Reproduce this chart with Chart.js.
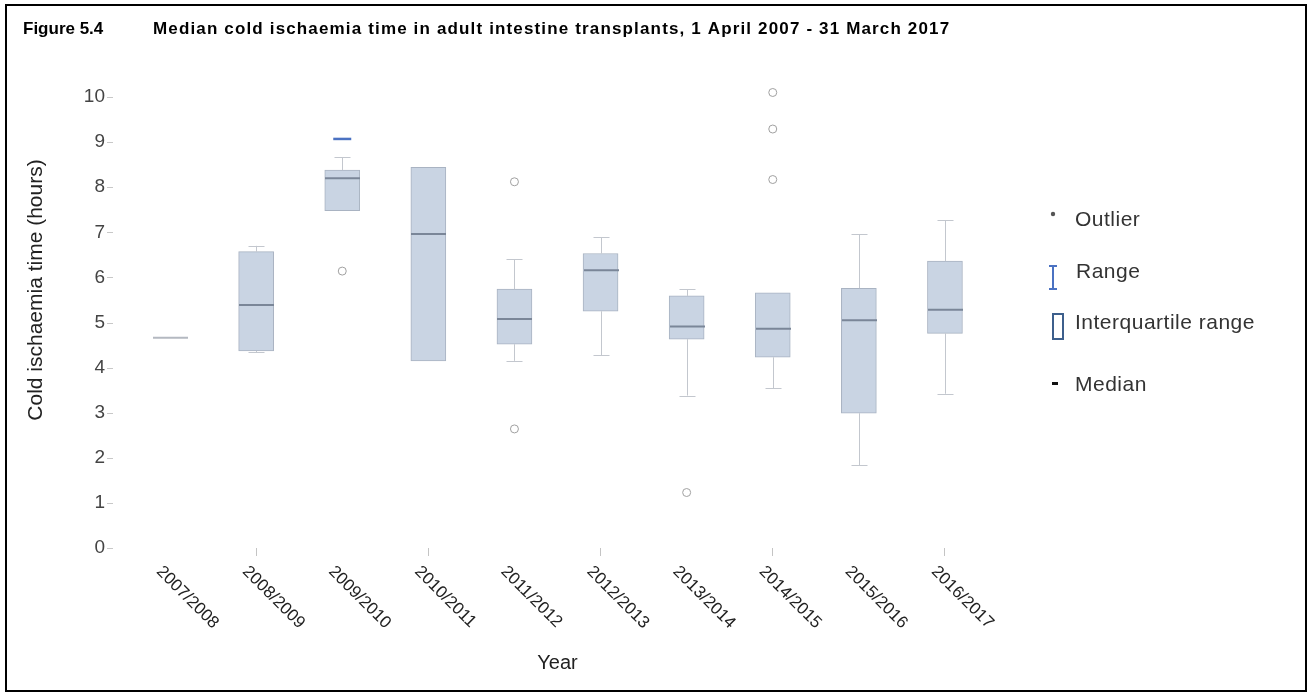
<!DOCTYPE html>
<html>
<head>
<meta charset="utf-8">
<title>Median cold ischaemia time in adult intestine transplants</title>
<script src="https://cdn.jsdelivr.net/npm/chart.js@4.4.1/dist/chart.umd.min.js"></script>
<style>
  html, body { margin: 0; padding: 0; background: #ffffff; }
  #wrap { position: relative; width: 1308px; height: 694px; }
  canvas { display: block; }
</style>
</head>
<body>
<div id="wrap"><canvas id="chart" width="1308" height="694"></canvas></div>
<script>
// Financial years (1 April - 31 March)
const years = ['2007/2008', '2008/2009', '2009/2010', '2010/2011', '2011/2012',
               '2012/2013', '2013/2014', '2014/2015', '2015/2016', '2016/2017'];

// Cold ischaemia time (hours): five-number summary per year
const lowVals    = [4.66, 4.34, 7.48, 4.15, 4.15, 4.28, 3.38, 3.54, 1.83, 3.42];
const q1Vals     = [4.66, 4.37, 7.48, 4.15, 4.52, 5.25, 4.63, 4.23, 2.99, 4.76];
const medianVals = [4.66, 5.39, 8.20, 6.96, 5.08, 6.16, 4.91, 4.86, 5.05, 5.28];
const q3Vals     = [4.66, 6.57, 8.38, 8.44, 5.74, 6.53, 5.59, 5.66, 5.76, 6.36];
const highVals   = [4.66, 6.70, 8.66, 8.44, 6.40, 6.89, 5.74, 5.66, 6.96, 7.27];

// Individual outlying transplants (hours)
const outliers = [[], [], [6.14], [], [8.12, 2.64], [], [1.23], [10.10, 9.29, 8.17], [], []];

// Highlighted range end
const rangeMarks = [null, null, 9.07, null, null, null, null, null, null, null];

// Y axis tick values
const yTicks = [0, 1, 2, 3, 4, 5, 6, 7, 8, 9, 10];

const FONT = "'Liberation Sans', Arial, Helvetica, sans-serif";
const BOX_HALF = 17.5;

const outlierPoints = [];
outliers.forEach((list, i) => list.forEach(v => outlierPoints.push({ x: years[i], y: v })));

// Whiskers, caps and median lines on top of the interquartile boxes
const boxParts = {
  id: 'boxParts',
  afterDatasetsDraw(chart) {
    const { ctx, scales: { x, y } } = chart;
    ctx.save();
    years.forEach((yr, i) => {
      const cx = Math.round(x.getPixelForValue(i)) + 0.5;
      const yQ1 = y.getPixelForValue(q1Vals[i]);
      const yQ3 = y.getPixelForValue(q3Vals[i]);
      const yLo = y.getPixelForValue(lowVals[i]);
      const yHi = y.getPixelForValue(highVals[i]);
      ctx.strokeStyle = '#c3c7ce';
      ctx.lineWidth = 1;
      if (highVals[i] > q3Vals[i]) {
        ctx.beginPath(); ctx.moveTo(cx, yQ3); ctx.lineTo(cx, yHi); ctx.stroke();
        ctx.beginPath(); ctx.moveTo(cx - 8, Math.round(yHi) + 0.5); ctx.lineTo(cx + 8, Math.round(yHi) + 0.5); ctx.stroke();
      }
      if (lowVals[i] < q1Vals[i]) {
        ctx.beginPath(); ctx.moveTo(cx, yQ1); ctx.lineTo(cx, yLo); ctx.stroke();
        ctx.beginPath(); ctx.moveTo(cx - 8, Math.round(yLo) + 0.5); ctx.lineTo(cx + 8, Math.round(yLo) + 0.5); ctx.stroke();
      }
      const yMed = y.getPixelForValue(medianVals[i]);
      ctx.strokeStyle = i === 0 ? '#b4b9c1' : '#7a8698';
      ctx.lineWidth = 2;
      ctx.beginPath(); ctx.moveTo(cx - BOX_HALF, yMed); ctx.lineTo(cx + BOX_HALF, yMed); ctx.stroke();
    });
    ctx.restore();
  }
};

// Frame, headings, axis labels and key
const decorations = {
  id: 'decorations',
  afterDraw(chart) {
    const { ctx, scales: { x, y }, chartArea } = chart;
    ctx.save();

    // outer frame
    ctx.strokeStyle = '#000';
    ctx.lineWidth = 2;
    ctx.strokeRect(6, 5, 1300, 686);

    // heading
    ctx.fillStyle = '#000';
    ctx.textBaseline = 'alphabetic';
    ctx.textAlign = 'left';
    ctx.font = 'bold 17px ' + FONT;
    ctx.fillText('Figure 5.4', 23, 34);
    if ('letterSpacing' in ctx) ctx.letterSpacing = '1.15px';
    ctx.fillText('Median cold ischaemia time in adult intestine transplants, 1 April 2007 - 31 March 2017', 153, 34);
    if ('letterSpacing' in ctx) ctx.letterSpacing = '0px';

    // y tick marks
    ctx.strokeStyle = '#c8c8c8';
    ctx.lineWidth = 1;
    yTicks.forEach(v => {
      const py = Math.round(y.getPixelForValue(v)) + 0.5;
      ctx.beginPath(); ctx.moveTo(107, py); ctx.lineTo(113, py); ctx.stroke();
    });

    // rotated year labels
    ctx.fillStyle = '#222';
    ctx.font = '17px ' + FONT;
    ctx.textAlign = 'left';
    ctx.textBaseline = 'top';
    years.forEach((yr, i) => {
      const px = x.getPixelForValue(i);
      ctx.save();
      ctx.translate(px - 5, 563);
      ctx.rotate(Math.PI / 4);
      ctx.fillText(yr, 0, 0);
      ctx.restore();
    });

    // axis titles
    ctx.fillStyle = '#222';
    ctx.font = '20px ' + FONT;
    ctx.textAlign = 'center';
    ctx.textBaseline = 'middle';
    ctx.fillText('Year', (chartArea.left + chartArea.right) / 2, 663);
    ctx.save();
    ctx.translate(36, 290);
    ctx.rotate(-Math.PI / 2);
    ctx.font = '21px ' + FONT;
    ctx.fillText('Cold ischaemia time (hours)', 0, 0);
    ctx.restore();

    // key
    const kx = 1053;
    ctx.font = '21px ' + FONT;
    if ('letterSpacing' in ctx) ctx.letterSpacing = '0.5px';
    ctx.textAlign = 'left';
    ctx.textBaseline = 'middle';
    ctx.fillStyle = '#333';
    ctx.fillText('Outlier', 1075, 220);
    ctx.fillText('Range', 1076, 272);
    ctx.fillText('Interquartile range', 1075, 323);
    ctx.fillText('Median', 1075, 385);
    if ('letterSpacing' in ctx) ctx.letterSpacing = '0px';

    ctx.fillStyle = '#555';
    ctx.beginPath(); ctx.arc(kx, 214, 2.2, 0, Math.PI * 2); ctx.fill();

    ctx.strokeStyle = '#4b72c2';
    ctx.lineWidth = 2;
    ctx.beginPath();
    ctx.moveTo(kx - 4, 266); ctx.lineTo(kx + 4, 266);
    ctx.moveTo(kx, 266); ctx.lineTo(kx, 289);
    ctx.moveTo(kx - 4, 289); ctx.lineTo(kx + 4, 289);
    ctx.stroke();

    ctx.strokeStyle = '#3d5f8c';
    ctx.lineWidth = 2;
    ctx.strokeRect(1053, 314, 10, 25);

    ctx.fillStyle = '#111';
    ctx.fillRect(1052, 382, 6, 3);

    ctx.restore();
  }
};

new Chart(document.getElementById('chart'), {
  data: {
    labels: years,
    datasets: [
      {
        type: 'bar',
        label: 'Interquartile range',
        data: years.map((_, i) => [q1Vals[i], q3Vals[i]]),
        backgroundColor: '#c9d4e3',
        borderColor: '#a9b3c2',
        borderWidth: 1,
        borderSkipped: false,
        barThickness: 35,
        order: 3
      },
      {
        type: 'line',
        label: 'Outlier',
        data: outlierPoints,
        showLine: false,
        pointStyle: 'circle',
        pointRadius: 4,
        pointBorderWidth: 1,
        pointBorderColor: '#a0a0a0',
        pointBackgroundColor: '#ffffff',
        clip: false,
        order: 1
      },
      {
        type: 'line',
        label: 'Range',
        data: rangeMarks,
        showLine: false,
        pointStyle: 'line',
        pointRadius: 9,
        pointBorderWidth: 2.5,
        pointBorderColor: '#4b72c2',
        clip: false,
        order: 0
      }
    ]
  },
  options: {
    responsive: false,
    animation: false,
    devicePixelRatio: 1,
    events: [],
    layout: { padding: { top: 97, right: 320, bottom: 0, left: 0 } },
    plugins: {
      legend: { display: false },
      title: { display: false },
      tooltip: { enabled: false }
    },
    scales: {
      x: {
        type: 'category',
        offset: true,
        border: { display: false },
        grid: {
          offset: false,
          drawOnChartArea: false,
          drawTicks: true,
          tickLength: 8,
          color: (c) => (c.index % 2 === 1 ? '#c4c4c4' : 'rgba(0,0,0,0)')
        },
        ticks: { display: false },
        afterFit(scale) { scale.height = 146; }
      },
      y: {
        type: 'linear',
        min: 0,
        max: 10,
        border: { display: false },
        grid: { display: false, drawTicks: false },
        ticks: {
          stepSize: 1,
          padding: 22,
          color: '#444',
          font: { family: FONT, size: 19 }
        },
        afterFit(scale) { scale.width = 127; }
      }
    }
  },
  plugins: [boxParts, decorations]
});
</script>
</body>
</html>
